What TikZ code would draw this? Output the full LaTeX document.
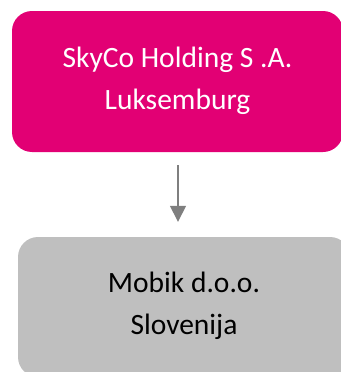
\documentclass[tikz,border=0pt]{standalone}
\usepackage{fontspec}
\setmainfont{Carlito}
\usetikzlibrary{arrows.meta}
\definecolor{tmagenta}{HTML}{E20074}
\definecolor{boxgray}{HTML}{BFBFBF}
\definecolor{arrowgray}{HTML}{7F7F7F}
\tikzset{
  orgbox/.style={rounded corners=20pt, align=center, inner sep=0pt,
    font=\fontsize{29.5}{42}\selectfont},
  linkarrow/.style={draw=arrowgray, line width=1.5pt,
    -{Triangle[width=16pt,length=16pt]}}
}
\begin{document}
\begin{tikzpicture}[x=1pt,y=1pt]
\useasboundingbox (0,0) rectangle (340,-372);
\node[orgbox, fill=tmagenta, text=white, minimum width=331pt, minimum height=141pt,
  text height=62pt, text depth=7pt] (top) at (177.5,-81.5)
  {SkyCo Holding S .A.\\Luksemburg};
\node[orgbox, fill=boxgray, text=black, minimum width=332pt, minimum height=140pt,
  text height=61pt, text depth=7pt] (bottom) at (184,-307)
  {Mobik d.o.o.\\Slovenija};
\coordinate (ax) at (178,0);
\draw[linkarrow, shorten <=13pt, shorten >=15pt] (top.south -| ax) -- (bottom.north -| ax);
\end{tikzpicture}
\end{document}
